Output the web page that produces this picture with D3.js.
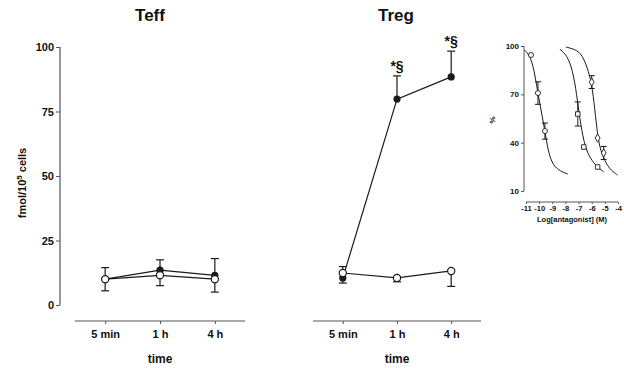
<!DOCTYPE html>
<html>
<head>
<meta charset="utf-8">
<script src="https://cdn.jsdelivr.net/npm/d3@7/dist/d3.min.js"></script>
<style>
  body { margin: 0; background: #fff; }
  text { font-family: Arial, "Liberation Sans", sans-serif; font-weight: bold; fill: #111; }
</style>
</head>
<body>
<div id="chart"></div>
<script>
// main panels
var timepoints = ["5 min", "1 h", "4 h"];
var yTicks = [0, 25, 50, 75, 100];

var teffFilled = [10, 13.5, 11.5];
var teffFilledHi = [4.5, 4, 6.5];
var teffFilledLo = [0, 0, 0];
var teffOpen = [10, 11.5, 10];
var teffOpenHi = [0, 0, 0];
var teffOpenLo = [4.5, 4, 5];

var tregFilled = [10.5, 79.8, 88.4];
var tregFilledHi = [0, 9, 10];
var tregFilledLo = [2, 0, 0];
var tregOpen = [12.4, 10.5, 13.2];
var tregOpenHi = [2.5, 0, 0];
var tregOpenLo = [0, 1.5, 6];
var tregMarks = ["", "*§", "*§"];

// inset: three antagonists
var insetXTicks = [-11, -10, -9, -8, -7, -6, -5, -4];
var insetYTicks = [10, 40, 70, 100];
var curve1 = [[-11.11, 97.5], [-10.62, 93.2], [-10.32, 82], [-10.09, 70.8], [-9.79, 57.2], [-9.56, 47.2], [-9.33, 35.4], [-9.03, 27.4], [-8.58, 23], [-7.82, 20.5]];
var curve2 = [[-8.42, 98], [-7.89, 94.4], [-7.44, 85], [-7.14, 69.6], [-6.91, 55.3], [-6.61, 40.5], [-6.23, 31.7], [-5.7, 25.8], [-5.09, 21.8]];
var curve3 = [[-7.97, 99.4], [-7.06, 97.5], [-6.61, 92.6], [-6.23, 83.9], [-6.0, 76.4], [-5.77, 61.5], [-5.55, 44], [-5.32, 35], [-4.94, 27.4], [-4.48, 22.4], [-4.03, 19.9]];
var pts1 = [[-10.62, 94.4, 0], [-10.09, 70.8, 7], [-9.56, 47.2, 5]];
var pts2 = [[-7.06, 57.8, 7.5], [-6.6, 37.3, 0], [-5.55, 24.9, 0]];
var pts3 = [[-6.0, 77.6, 4], [-5.55, 42.9, 0], [-5.09, 33.6, 4]];

var width = 624, height = 368;
var svg = d3.select("#chart").append("svg").attr("width", width).attr("height", height);
var ink = "#1a1a1a", axisInk = "#555";
var fontFam = "Arial, 'Liberation Sans', sans-serif";

var y = d3.scaleLinear().domain([0, 100]).range([305, 47]);

function errbar(g, xs, ys, vals, hi, lo){
    vals.forEach(function(v, i){
        var x = xs(timepoints[i]);
        [[hi[i], 1], [lo[i], -1]].forEach(function(e){
            if (e[0] <= 0) return;
            var yEnd = ys(v + e[1] * e[0]);
            g.append("line").attr("x1", x).attr("x2", x).attr("y1", ys(v)).attr("y2", yEnd)
                .attr("stroke", ink).attr("stroke-width", 1.2);
            g.append("line").attr("x1", x - 4).attr("x2", x + 4).attr("y1", yEnd).attr("y2", yEnd)
                .attr("stroke", ink).attr("stroke-width", 1.2);
        });
    });
}

function drawPanel(cfg){
    var g = svg.append("g");
    var x = d3.scalePoint().domain(timepoints).range(cfg.xr).padding(0.55);
    var xAxis = g.append("g").attr("transform", "translate(0,321)")
        .call(d3.axisBottom(x).tickSize(3).tickPadding(6));
    xAxis.select(".domain").attr("d", "M" + cfg.xr[0] + ",0H" + cfg.xr[1]).attr("stroke", axisInk).attr("stroke-width", 1.2);
    xAxis.selectAll(".tick line").attr("stroke", axisInk);
    xAxis.selectAll(".tick text").attr("font-size", 11).attr("font-family", fontFam).attr("font-weight", "bold").attr("fill", "#111");

    g.append("text").attr("x", (cfg.xr[0] + cfg.xr[1]) / 2).attr("y", 363).attr("text-anchor", "middle")
        .attr("font-size", 12).text("time");
    g.append("text").attr("x", cfg.titleX).attr("y", 21).attr("text-anchor", "middle")
        .attr("font-size", 17).text(cfg.title);

    var line = d3.line().x(function(d, i){ return x(timepoints[i]); }).y(function(d){ return y(d); });
    errbar(g, x, y, cfg.filled, cfg.filledHi, cfg.filledLo);
    errbar(g, x, y, cfg.open, cfg.openHi, cfg.openLo);
    g.append("path").attr("d", line(cfg.filled)).attr("fill", "none").attr("stroke", ink).attr("stroke-width", 1.2);
    g.append("path").attr("d", line(cfg.open)).attr("fill", "none").attr("stroke", ink).attr("stroke-width", 1.2);
    g.selectAll(".dotf").data(cfg.filled).enter().append("circle")
        .attr("cx", function(d, i){ return x(timepoints[i]); }).attr("cy", function(d){ return y(d); })
        .attr("r", 3.6).attr("fill", ink);
    g.selectAll(".doto").data(cfg.open).enter().append("circle")
        .attr("cx", function(d, i){ return x(timepoints[i]); }).attr("cy", function(d){ return y(d); })
        .attr("r", 3.6).attr("fill", "#fff").attr("stroke", ink).attr("stroke-width", 1.2);
    if (cfg.marks){
        cfg.marks.forEach(function(m, i){
            if (!m) return;
            g.append("text").attr("x", x(timepoints[i])).attr("y", y(cfg.filled[i] + cfg.filledHi[i]) - 5)
                .attr("text-anchor", "middle").attr("font-size", 14).attr("font-weight", "normal").text(m);
        });
    }
    return x;
}

// y axis for left panel
var yAxis = svg.append("g").attr("transform", "translate(60,0)")
    .call(d3.axisLeft(y).tickValues(yTicks).tickSize(4).tickPadding(2));
yAxis.select(".domain").attr("stroke", axisInk).attr("stroke-width", 1.2).attr("d", "M0," + y(100) + "V" + y(0));
yAxis.selectAll(".tick line").attr("stroke", axisInk);
yAxis.selectAll(".tick text").attr("font-size", 11).attr("font-family", fontFam).attr("font-weight", "bold").attr("fill", "#111");

var yl = svg.append("text").attr("transform", "translate(26,183) rotate(-90)").attr("text-anchor", "middle").attr("font-size", 11);
yl.append("tspan").text("fmol/10");
yl.append("tspan").attr("dy", -4).attr("font-size", 8).text("5");
yl.append("tspan").attr("dy", 4).text(" cells");

drawPanel({xr: [75, 245], title: "Teff", titleX: 150, filled: teffFilled, filledHi: teffFilledHi, filledLo: teffFilledLo,
    open: teffOpen, openHi: teffOpenHi, openLo: teffOpenLo});
drawPanel({xr: [313, 481], title: "Treg", titleX: 396, filled: tregFilled, filledHi: tregFilledHi, filledLo: tregFilledLo,
    open: tregOpen, openHi: tregOpenHi, openLo: tregOpenLo, marks: tregMarks});

// inset
var ix = d3.scaleLinear().domain([-11, -4]).range([526, 618]);
var iy = d3.scaleLinear().domain([10, 100]).range([191, 46]);
var inset = svg.append("g");
var iyAxis = inset.append("g").attr("transform", "translate(524,0)")
    .call(d3.axisLeft(iy).tickValues(insetYTicks).tickSize(3).tickPadding(2));
iyAxis.select(".domain").attr("stroke", axisInk).attr("d", "M0," + iy(100) + "V" + iy(10));
iyAxis.selectAll(".tick line").attr("stroke", axisInk);
iyAxis.selectAll(".tick text").attr("font-size", 8).attr("font-family", fontFam).attr("font-weight", "bold").attr("fill", "#111");
var ixAxis = inset.append("g").attr("transform", "translate(0,202)")
    .call(d3.axisBottom(ix).tickValues(insetXTicks).tickSize(2).tickPadding(2).tickFormat(d3.format("d")));
ixAxis.select(".domain").attr("stroke", axisInk).attr("d", "M" + ix(-11) + ",0H" + ix(-4));
ixAxis.selectAll(".tick line").attr("stroke", axisInk);
ixAxis.selectAll(".tick text").attr("font-size", 7.5).attr("font-family", fontFam).attr("font-weight", "bold").attr("fill", "#111")
    .text(function(d){ return d; });
inset.append("text").attr("x", 572).attr("y", 222).attr("text-anchor", "middle").attr("font-size", 7.5).text("Log[antagonist] (M)");
inset.append("text").attr("transform", "translate(495,120) rotate(-90)").attr("text-anchor", "middle").attr("font-size", 8).text("%");

var iline = d3.line().x(function(d){ return ix(d[0]); }).y(function(d){ return iy(d[1]); }).curve(d3.curveBasis);
[curve1, curve2, curve3].forEach(function(c){
    inset.append("path").attr("d", iline(c)).attr("fill", "none").attr("stroke", ink).attr("stroke-width", 1);
});
[[pts1, d3.symbolCircle], [pts2, d3.symbolSquare], [pts3, d3.symbolDiamond]].forEach(function(s){
    s[0].forEach(function(p){
        if (p[2] > 0){
            inset.append("line").attr("x1", ix(p[0])).attr("x2", ix(p[0])).attr("y1", iy(p[1] + p[2])).attr("y2", iy(p[1] - p[2]))
                .attr("stroke", ink).attr("stroke-width", 1);
            [p[1] + p[2], p[1] - p[2]].forEach(function(v){
                inset.append("line").attr("x1", ix(p[0]) - 3).attr("x2", ix(p[0]) + 3).attr("y1", iy(v)).attr("y2", iy(v))
                    .attr("stroke", ink).attr("stroke-width", 1);
            });
        }
        inset.append("path").attr("d", d3.symbol().type(s[1]).size(20)())
            .attr("transform", "translate(" + ix(p[0]) + "," + iy(p[1]) + ")")
            .attr("fill", "#fff").attr("stroke", ink).attr("stroke-width", 0.9);
    });
});
</script>
</body>
</html>
